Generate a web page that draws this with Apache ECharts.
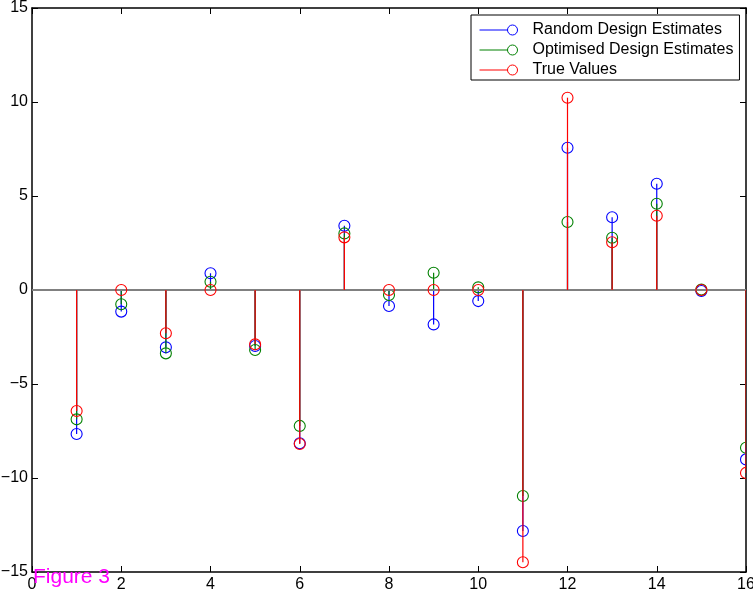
<!DOCTYPE html>
<html>
<head>
<meta charset="utf-8">
<script src="https://cdn.jsdelivr.net/npm/echarts@6/dist/echarts.min.js"></script>
<style>
  html, body { margin: 0; padding: 0; background: #fff; }
  #chart { width: 753px; height: 596px; }
</style>
</head>
<body>
<div id="chart"></div>
<script>
// Coefficient index for each stem
const indices = [1, 2, 3, 4, 5, 6, 7, 8, 9, 10, 11, 12, 13, 14, 15, 16];

// Estimates from the random design
const randomEstimates = [-7.66, -1.15, -3.05, 0.89, -2.98, -8.15, 3.42, -0.85, -1.83, -0.59, -12.82, 7.57, 3.87, 5.65, -0.05, -9.01];
// Estimates from the optimised design
const optimisedEstimates = [-6.88, -0.76, -3.37, 0.44, -3.19, -7.23, 3.01, -0.27, 0.92, 0.14, -10.96, 3.62, 2.78, 4.59, 0.02, -8.39];
// True parameter values
const trueValues = [-6.44, 0, -2.30, 0, -2.89, -8.19, 2.80, 0, 0, 0, -14.48, 10.23, 2.54, 3.95, 0, -9.73];

const seriesNames = ['Random Design Estimates', 'Optimised Design Estimates', 'True Values'];
const seriesColors = ['#0000ff', '#008000', '#ff0000'];
const seriesValues = [randomEstimates, optimisedEstimates, trueValues];

const xTicks = [0, 2, 4, 6, 8, 10, 12, 14, 16];
const yTicks = [-15, -10, -5, 0, 5, 10, 15];

const FONT = '"Liberation Sans", Arial, Helvetica, sans-serif';

// Stem: a vertical line from the baseline to the value plus a hollow circle marker
function stemRenderer(color) {
  return function (params, api) {
    const x = api.value(0);
    const y = api.value(1);
    const base = api.coord([x, 0]);
    const tip = api.coord([x, y]);
    return {
      type: 'group',
      children: [
        {
          type: 'line',
          shape: { x1: base[0], y1: base[1], x2: tip[0], y2: tip[1] },
          style: { stroke: color, lineWidth: 1.2 }
        },
        {
          type: 'circle',
          shape: { cx: tip[0], cy: tip[1], r: 5.5 },
          style: { fill: 'none', stroke: color, lineWidth: 1.1 }
        }
      ]
    };
  };
}

const series = seriesNames.map(function (name, i) {
  return {
    name: name,
    type: 'custom',
    clip: true,
    renderItem: stemRenderer(seriesColors[i]),
    itemStyle: { color: seriesColors[i] },
    encode: { x: 0, y: 1 },
    data: indices.map(function (x, k) { return [x, seriesValues[i][k]]; }),
    z: 3 + i
  };
});

// Baseline at zero
series.unshift({
  name: 'baseline',
  type: 'line',
  data: [],
  markLine: {
    silent: true,
    symbol: 'none',
    label: { show: false },
    lineStyle: { color: '#808080', width: 2, type: 'solid' },
    data: [{ yAxis: 0 }]
  },
  z: 2
});

const legendIcon = 'path://M0,6L28,6M28,6A5,5,0,1,0,38,6A5,5,0,1,0,28,6';

function axisCommon() {
  return {
    axisLine: { show: true, onZero: false, lineStyle: { color: '#000', width: 1.5 } },
    axisTick: { show: true, inside: true, length: 6, lineStyle: { color: '#000' } },
    splitLine: { show: false }
  };
}

const option = {
  animation: false,
  backgroundColor: '#ffffff',
  grid: { left: 32, right: 7, top: 8, bottom: 24, containLabel: false, outerBoundsMode: 'none' },
  xAxis: [
    Object.assign(axisCommon(), {
      type: 'value', min: 0, max: 16, interval: 2, position: 'bottom',
      axisLabel: { color: '#000', fontSize: 16, fontFamily: FONT, margin: 5,
        formatter: function (v) { return xTicks.indexOf(v) >= 0 ? String(v) : ''; } }
    }),
    Object.assign(axisCommon(), {
      type: 'value', min: 0, max: 16, interval: 2, position: 'top',
      axisLabel: { show: false }
    })
  ],
  yAxis: [
    Object.assign(axisCommon(), {
      type: 'value', min: -15, max: 15, interval: 5, position: 'left',
      axisLabel: { color: '#000', fontSize: 16, fontFamily: FONT, margin: 4,
        formatter: function (v) { return yTicks.indexOf(v) >= 0 ? String(v).replace('-', '\u2212') : ''; } }
    }),
    Object.assign(axisCommon(), {
      type: 'value', min: -15, max: 15, interval: 5, position: 'right',
      axisLabel: { show: false }
    })
  ],
  legend: {
    orient: 'vertical',
    left: 471,
    top: 15,
    width: 268,
    padding: [7, 6, 2, 8],
    itemGap: 4,
    itemWidth: 38,
    itemHeight: 10,
    backgroundColor: '#ffffff',
    borderColor: '#000',
    borderWidth: 1,
    textStyle: { color: '#000', fontSize: 16, fontFamily: FONT, padding: [0, 0, 0, 10], lineHeight: 16 },
    selectedMode: false,
    data: seriesNames.map(function (name, i) {
      return {
        name: name,
        icon: legendIcon,
        itemStyle: { color: 'rgba(0,0,0,0)', borderColor: seriesColors[i], borderWidth: 1 }
      };
    })
  },
  graphic: [
    {
      type: 'text',
      left: 33,
      top: 567,
      z: 100,
      style: { text: 'Figure 3', fill: '#ff00ff', fontSize: 21, fontFamily: FONT }
    }
  ],
  series: series
};

const chart = echarts.init(document.getElementById('chart'), null, { renderer: 'canvas' });
chart.setOption(option);
</script>
</body>
</html>
